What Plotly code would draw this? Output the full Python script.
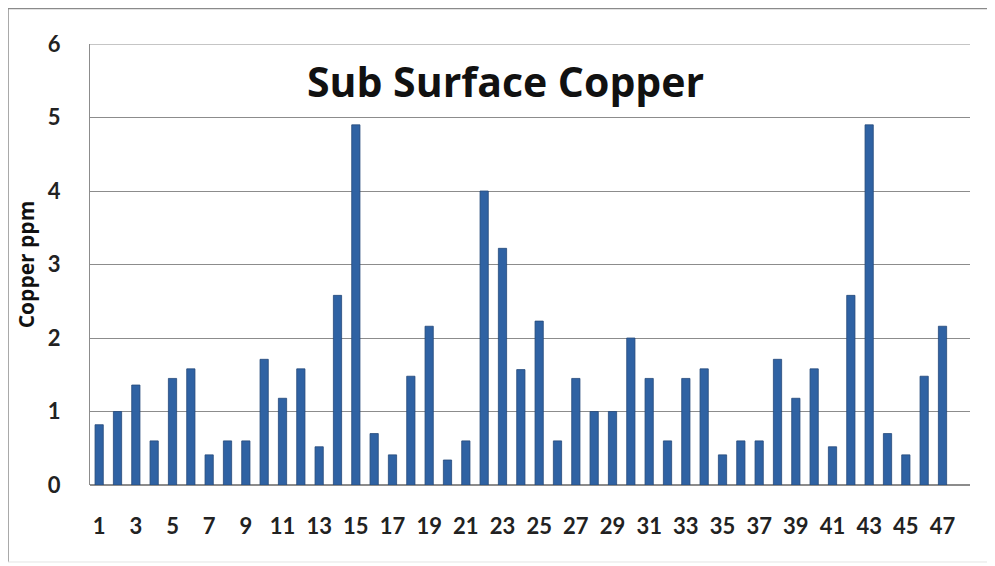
import plotly.graph_objects as go

samples = list(range(1, 48))
copper_ppm = [0.82, 1.0, 1.36, 0.6, 1.45, 1.58, 0.41, 0.6, 0.6, 1.71,
              1.18, 1.58, 0.52, 2.58, 4.9, 0.7, 0.41, 1.48, 2.16, 0.34,
              0.6, 4.0, 3.22, 1.57, 2.23, 0.6, 1.45, 1.0, 1.0, 2.0,
              1.45, 0.6, 1.45, 1.58, 0.41, 0.6, 0.6, 1.71, 1.18, 1.58,
              0.52, 2.58, 4.9, 0.7, 0.41, 1.48, 2.16]
x_ticks = list(range(1, 48, 2))
x_tick_labels = [str(t) for t in x_ticks]
y_ticks = [0, 1, 2, 3, 4, 5, 6]

fig = go.Figure()

fig.add_trace(go.Bar(
    x=samples, y=copper_ppm, width=0.45,
    marker=dict(color='#2f62a3', line=dict(color='#24497a', width=0.8)),
    name='Copper ppm'
))

fig.add_annotation(
    text="<b>Sub Surface Copper</b>", x=0.4716, xref='paper', y=5.5, yref='y',
    showarrow=False, font=dict(family='Open Sans', size=41, color='#111111')
)

# outer chart border (top + left strong, bottom faint)
fig.add_shape(type='line', xref='paper', yref='paper', x0=-0.0932, x1=1.03, y0=1.0805, y1=1.0805,
              line=dict(color='#8a8a8a', width=1.5))
fig.add_shape(type='line', xref='paper', yref='paper', x0=-0.0932, x1=-0.0932, y0=1.0805, y1=-0.1746,
              line=dict(color='#8a8a8a', width=1.5))
fig.add_shape(type='line', xref='paper', yref='paper', x0=-0.0932, x1=1.03, y0=-0.1746, y1=-0.1746,
              line=dict(color='#e4e4e4', width=1))

# top gridline at 6 (sits on the plot edge)
fig.add_shape(type='line', xref='paper', yref='y', x0=0, x1=1, y0=6, y1=6,
              line=dict(color='#8c8c8c', width=1))

fig.update_layout(
    width=987, height=558,
    margin=dict(l=82, r=25, t=36, b=81, autoexpand=False),
    plot_bgcolor='white', paper_bgcolor='white',
    showlegend=False,
    font=dict(family='Lato', color='#222222'),
)

fig.update_xaxes(
    range=[0.5, 48.5], tickmode='array', tickvals=x_ticks, ticktext=x_tick_labels,
    showgrid=False, showline=False, ticks='', zeroline=False, automargin=False,
    tickfont=dict(size=22, family='Lato', color='#222222', weight='bold'), ticklabelstandoff=26
)
fig.update_yaxes(
    range=[0, 6], tickvals=y_ticks, showgrid=True, gridcolor='#8c8c8c', gridwidth=1,
    showline=True, linecolor='#8c8c8c', zeroline=True, zerolinecolor='#8c8c8c',
    ticks='', automargin=False,
    tickfont=dict(size=22, family='Lato', color='#222222', weight='bold'), ticklabelstandoff=24,
    title=dict(text='<b>Copper ppm</b>', font=dict(size=21, family='Open Sans', color='#111111'), standoff=7)
)

fig.write_html("out.html")
